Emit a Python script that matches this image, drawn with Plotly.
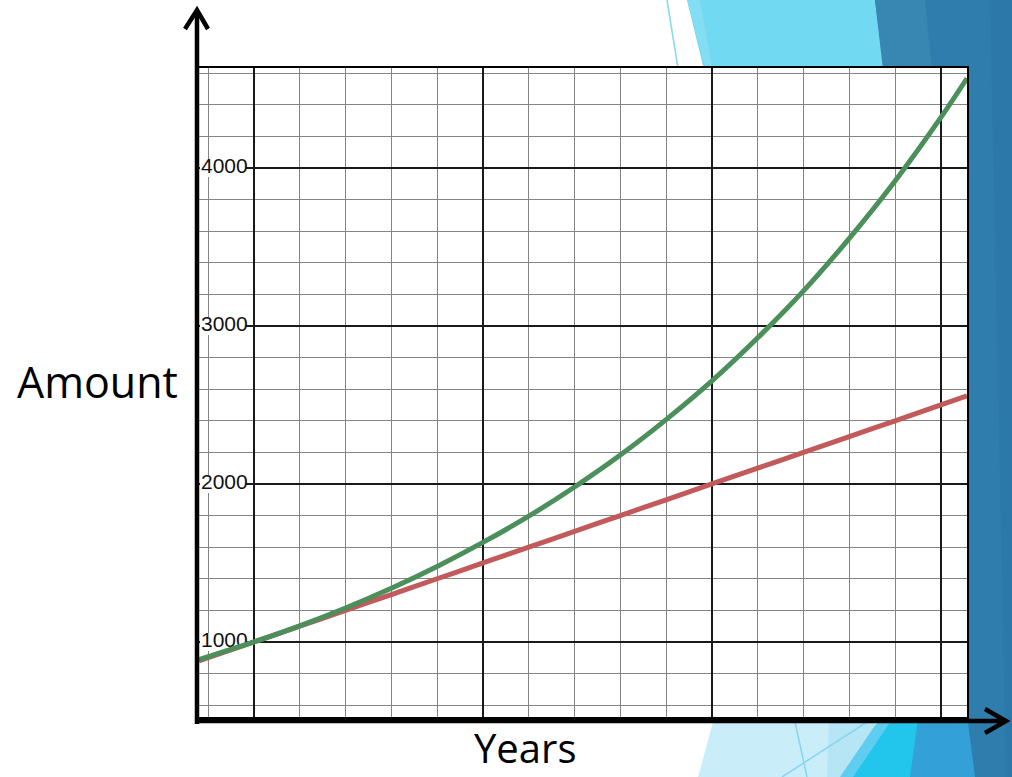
import plotly.graph_objects as go

# ---- data ----
years = [-1.2, -1, 0, 1, 2, 3, 4, 5, 6, 7, 8, 9, 10, 11, 12, 13, 14, 15, 15.57]
simple_amount = [880, 900, 1000, 1100, 1200, 1300, 1400, 1500, 1600, 1700, 1800,
                 1900, 2000, 2100, 2200, 2300, 2400, 2500, 2557]
compound_amount = [889, 907, 1000, 1102, 1215, 1340, 1478, 1630, 1796, 1981, 2183,
                   2407, 2652, 2925, 3222, 3555, 3918, 4320, 4568]
y_tick_values = [1000, 2000, 3000, 4000]
y_tick_labels = ["1000", "2000", "3000", "4000"]
x_title = "Years"
y_title = "Amount"

W, H = 1012, 777
X_RANGE = [-1.2, 15.57]
Y_RANGE = [525, 4633]
L, R, T, B = 199, 967, 68, 717   # plot area in pixels


def px(x):
    return x / W


def py(y):
    return 1 - y / H


def xpix_to_data(p):
    return X_RANGE[0] + (p - L) / (R - L) * (X_RANGE[1] - X_RANGE[0])


def ypix_to_span(p):
    return p / (B - T) * (Y_RANGE[1] - Y_RANGE[0])


def poly(points, color, layer="below"):
    d = "M " + " L ".join(f"{px(x):.5f},{py(y):.5f}" for x, y in points) + " Z"
    return dict(type="path", xref="paper", yref="paper", path=d,
                fillcolor=color, line=dict(width=0), layer=layer)


def seg(points, color, width, layer="below"):
    d = "M " + " L ".join(f"{px(x):.5f},{py(y):.5f}" for x, y in points)
    return dict(type="path", xref="paper", yref="paper", path=d,
                line=dict(color=color, width=width), layer=layer)


fig = go.Figure()

# white backgrounds behind the tick labels (above grid, below curves)
bx0, bx1 = xpix_to_data(200), xpix_to_data(246)
half = ypix_to_span(9)
for v in y_tick_values:
    fig.add_trace(go.Scatter(x=[bx0, bx1, bx1, bx0, bx0],
                             y=[v - half, v - half, v + half, v + half, v - half],
                             mode="lines", fill="toself", fillcolor="white",
                             line=dict(width=0, color="white"), hoverinfo="skip"))

fig.add_trace(go.Scatter(x=[xpix_to_data(201)] * len(y_tick_values), y=y_tick_values,
                         mode="text", text=y_tick_labels, textposition="middle right",
                         textfont=dict(family="Liberation Sans", size=21, color="#111111"),
                         hoverinfo="skip"))

fig.add_trace(go.Scatter(x=years, y=simple_amount, mode="lines",
                         line=dict(color="#c25a5b", width=5, shape="spline"),
                         hoverinfo="skip"))
fig.add_trace(go.Scatter(x=years, y=compound_amount, mode="lines",
                         line=dict(color="#4b8f5a", width=5, shape="spline"),
                         hoverinfo="skip"))

shapes = [
    # top-right facets
    seg([(667, 0), (678, 68)], "#8adaf1", 1.6),
    poly([(687, 0), (905, 0), (935, 300), (760, 300)], "#71d9f1"),
    poly([(687, 0), (700, 0), (712, 68), (705, 68)], "#84def3"),
    # bottom-right facets
    poly([(698, 777), (850, 777), (875, 660), (730, 660)], "#c9edf9"),
    poly([(827, 777), (860, 777), (885, 690), (830, 690)], "#b6e6f5"),
    seg([(795, 722), (807, 777)], "#86d6f0", 1.5),
    seg([(867, 722), (782, 777)], "#86d6f0", 1.5),
    poly([(840, 777), (870, 777), (905, 718), (880, 718)], "#5fcdef"),
    poly([(853, 777), (913, 777), (922, 718), (893, 718)], "#22c5eb"),
    poly([(910, 777), (978, 777), (968, 690), (922, 690)], "#33a1d7"),
    # dark blue right band
    poly([(875, 0), (1012, 0), (1012, 777), (975, 777)], "#2e7dad"),
    poly([(875, 0), (925, 0), (945, 200), (898, 200)], "#3886b2"),
    poly([(990, 0), (1012, 0), (1012, 777), (1006, 777)], "#2c79a9"),
    # white plot area
    dict(type="rect", xref="paper", yref="paper", x0=px(L), x1=px(R),
         y0=py(B), y1=py(T), fillcolor="white", line=dict(width=0), layer="below"),
]

# axes arrows
shapes += [
    seg([(197, 724), (197, 11)], "black", 4.5, "above"),
    seg([(185, 29), (197, 10), (208, 29)], "black", 4.5, "above"),
    seg([(195, 721), (1005, 721)], "black", 4.5, "above"),
    seg([(985, 709), (1006, 721), (985, 733)], "black", 4.5, "above"),
]

annotations = [
    dict(x=px(15), xref="paper", y=py(381), yref="paper", text=y_title,
         showarrow=False, xanchor="left", yanchor="middle",
         font=dict(family="Open Sans", size=43, color="black")),
    dict(x=px(525), xref="paper", y=py(747), yref="paper", text=x_title,
         showarrow=False, xanchor="center", yanchor="middle",
         font=dict(family="Open Sans", size=40, color="black")),
]

fig.update_layout(
    width=W, height=H, margin=dict(l=0, r=0, t=0, b=0),
    paper_bgcolor="white", plot_bgcolor="white", showlegend=False,
    shapes=shapes, annotations=annotations,
    xaxis=dict(domain=[px(L), px(R)], range=X_RANGE,
               showticklabels=False, ticks="", zeroline=False,
               showgrid=True, tick0=0, dtick=5, gridcolor="#1a1a1a", gridwidth=1.7,
               minor=dict(showgrid=True, tick0=0, dtick=1, gridcolor="#858585", gridwidth=1.4),
               showline=True, mirror=True, linecolor="black", linewidth=2),
    yaxis=dict(domain=[py(B), py(T)], range=Y_RANGE,
               showticklabels=False, ticks="", zeroline=False,
               showgrid=True, tick0=0, dtick=1000, gridcolor="#1a1a1a", gridwidth=1.7,
               minor=dict(showgrid=True, tick0=0, dtick=200, gridcolor="#858585", gridwidth=1.4),
               showline=True, mirror=True, linecolor="black", linewidth=2),
)

fig.write_html("out.html")
